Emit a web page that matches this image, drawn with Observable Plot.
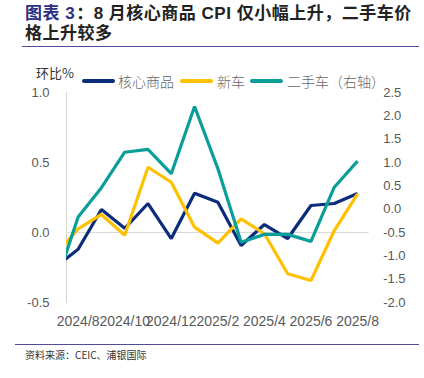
<!DOCTYPE html>
<html>
<head>
<meta charset="utf-8">
<script src="https://cdn.jsdelivr.net/npm/d3@7"></script>
<script src="https://cdn.jsdelivr.net/npm/@observablehq/plot@0.6"></script>
<style>
  html, body { margin: 0; padding: 0; background: #fff; }
  #wrap { position: relative; width: 424px; height: 378px; overflow: hidden; font-family: "Noto Sans CJK SC", "Noto Sans", sans-serif; }
  .tline { position: absolute; left: 25px; white-space: nowrap; font-family: "Liberation Sans", "Noto Sans CJK SC", sans-serif; font-size: 17px; line-height: 20px; height: 20px; font-weight: 700; color: #222; letter-spacing: 0.5px; }
  .tline .hl { color: #2B2F85; margin-right: 1px; }
  .rule { position: absolute; height: 1.5px; background: #4F4C9E; }
  #chart { position: absolute; left: 0; top: 60px; }
  .sw { position: absolute; height: 3.5px; border-radius: 2px; top: 79px; width: 33px; }
  .lg { position: absolute; top: 72px; font-size: 14px; line-height: 18px; color: #666; font-weight: 300; }
  #unit { position: absolute; left: 36px; top: 64px; font-size: 13px; line-height: 18px; color: #333; }
  #caption { position: absolute; left: 25px; top: 348px; font-size: 10px; line-height: 14px; color: #333; }
</style>
</head>
<body>
<div id="wrap">
  <div class="tline" style="top:4px;"><span class="hl">图表 3</span><span>：8 月核心商品 CPI 仅小幅上升，二手车价</span></div>
  <div class="tline" style="top:24px;"><span>格上升较多</span></div>
  <div class="rule" style="left:22px; width:397px; top:45.5px;"></div>
  <div id="unit">环比%</div>
  <div id="legend"></div>
  <div id="chart"></div>
  <div class="rule" style="left:15px; width:404px; top:343.5px;"></div>
  <div id="caption">资料来源：CEIC、浦银国际</div>
</div>
<script>
// Months (index 0 = 2024/7, partly outside the visible axis range)
const months = ["2024/7","2024/8","2024/9","2024/10","2024/11","2024/12","2025/1","2025/2","2025/3","2025/4","2025/5","2025/6","2025/7","2025/8"];
// 核心商品 (left axis, %)
const coreGoods = [-0.25, -0.12, 0.164, 0.03, 0.207, -0.043, 0.281, 0.216, -0.093, 0.057, -0.043, 0.193, 0.207, 0.279];
// 新车 (left axis, %)
const newCars = [-0.165, 0.026, 0.129, -0.02, 0.466, 0.359, 0.038, -0.076, 0.098, -0.009, -0.295, -0.343, 0.014, 0.276];
// 二手车 (right axis, %)
const usedCars = [-1.67, -0.17, 0.46, 1.22, 1.28, 0.76, 2.2, 0.87, -0.71, -0.54, -0.54, -0.69, 0.47, 1.03];

const leftTicks = [-0.5, 0, 0.5, 1.0];
const rightTicks = [-2.0, -1.5, -1.0, -0.5, 0, 0.5, 1.0, 1.5, 2.0, 2.5];
const xTickIdx = [1, 3, 5, 7, 9, 11, 13];

const series = [
  {name: "核心商品", color: "#0B2C7A", values: coreGoods, right: false},
  {name: "新车", color: "#FFC000", values: newCars, right: false},
  {name: "二手车（右轴）", color: "#0A9E98", values: usedCars, right: true}
];

// right axis [-2, 2.5] mapped onto left axis [-0.5, 1.0]
const toLeft = r => -0.5 + (r + 2) / 3;
const fromLeft = l => (l + 0.5) * 3 - 2;
const fmt = v => (Math.round(v * 10) / 10 + 0).toFixed(1);

const rows = [];
for (const s of series) {
  s.values.forEach((v, i) => rows.push({series: s.name, i, y: s.right ? toLeft(v) : v}));
}

const chart = Plot.plot({
  width: 424,
  height: 270,
  marginTop: 32,
  marginBottom: 28,
  marginLeft: 66,
  marginRight: 55.3,
  style: {fontFamily: "'Liberation Sans', Arial, sans-serif", color: "#595959", background: "transparent"},
  x: {type: "linear", domain: [0.5, 13.5]},
  y: {domain: [-0.5, 1.0]},
  marks: [
    Plot.ruleY([0], {stroke: "#D9D9D9", strokeWidth: 1.2}),
    Plot.frame({anchor: "left", stroke: "#D9D9D9", strokeWidth: 1.2}),
    ...series.map(s => Plot.lineY(rows.filter(d => d.series === s.name), {
      x: "i", y: "y", stroke: s.color, strokeWidth: 3.2, clip: true, strokeLinejoin: "miter", strokeLinecap: "butt"
    })),
    Plot.axisY(leftTicks, {anchor: "left", tickSize: 0, tickPadding: 17, tickFormat: fmt, label: null, fontSize: 13}),
    Plot.axisY(rightTicks.map(toLeft), {anchor: "right", tickSize: 0, tickPadding: 14, tickFormat: d => fmt(fromLeft(d)), label: null, fontSize: 13}),
    Plot.axisX(xTickIdx, {anchor: "bottom", tickSize: 0, tickPadding: 14, tickFormat: i => months[i], label: null, fontSize: 14})
  ]
});
document.getElementById("chart").appendChild(chart);

// legend (HTML)
const legendPos = [{sw: 82, tx: 118}, {sw: 180, tx: 217}, {sw: 250, tx: 287}];
const lg = document.getElementById("legend");
series.forEach((s, k) => {
  const sw = document.createElement("div");
  sw.className = "sw";
  sw.style.left = legendPos[k].sw + "px";
  sw.style.background = s.color;
  lg.appendChild(sw);
  const t = document.createElement("div");
  t.className = "lg";
  t.style.left = legendPos[k].tx + "px";
  t.textContent = s.name;
  lg.appendChild(t);
});
</script>
</body>
</html>
